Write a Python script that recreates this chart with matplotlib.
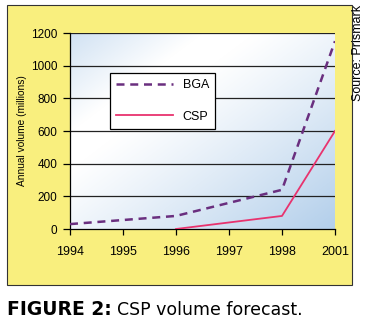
import numpy as np
import matplotlib.pyplot as plt
from matplotlib.patches import Rectangle

plt.rcParams['font.family'] = ['Liberation Sans', 'DejaVu Sans']

years = ['1994', '1995', '1996', '1997', '1998', '2001']
bga_x = [0, 2, 4, 5]
bga = [30, 80, 240, 1150]
csp_x = [2, 4, 5]
csp = [0, 80, 600]
yticks = [0, 200, 400, 600, 800, 1000, 1200]

W, H = 365, 324
fig = plt.figure(figsize=(W / 100, H / 100), dpi=100)

# yellow panel behind the chart
fig.patches.append(Rectangle((7 / W, 1 - 285 / H), 345 / W, 280 / H,
                             transform=fig.transFigure, facecolor='#f9ef7e',
                             edgecolor='#333333', linewidth=0.8, zorder=-5))

ax = fig.add_axes([70 / W, 1 - 229 / H, 265 / W, 196 / H], zorder=2)
ax.set_xlim(0, 5)
ax.set_ylim(0, 1200)
ax.patch.set_alpha(0)

# diagonal blue/white shading in the plot area
u, v = np.meshgrid(np.linspace(0, 1, 200), np.linspace(1, 0, 200))
t = (u + (1 - v)) / 2
shade = np.clip((t - 0.35) / 0.65, 0, 1) ** 1.1 + np.clip((0.25 - t) / 0.25, 0, 1) * 0.6
shade = np.clip(shade, 0, 1)
white = np.array([1.0, 1.0, 1.0])
blue = np.array([0.70, 0.81, 0.92])
img = white[None, None, :] * (1 - shade[..., None]) + blue[None, None, :] * shade[..., None]
ax.imshow(img, extent=[0, 5, 0, 1200], aspect='auto', zorder=0)

for y in yticks[1:]:
    ax.axhline(y, color='#222222', linewidth=0.9, zorder=1)

ax.plot(bga_x, bga, color='#6a2f7f', linewidth=1.8, dashes=(3.2, 2.3), label='BGA', zorder=3)
ax.plot(csp_x, csp, color='#e8336e', linewidth=1.3, label='CSP', zorder=3)

for s in ['top', 'right']:
    ax.spines[s].set_visible(False)
ax.spines['left'].set_linewidth(0.9)
ax.spines['bottom'].set_linewidth(0.9)

ax.set_xticks(range(len(years)))
ax.set_xticklabels(years, fontsize=9)
ax.set_yticks(yticks)
ax.set_yticklabels([str(y) for y in yticks], fontsize=8.5)
ax.tick_params(axis='x', direction='out', length=4, width=0.9, pad=8)
ax.tick_params(axis='y', direction='out', length=5, width=0.9, pad=4)
ax.set_ylabel('Annual volume (millions)', fontsize=7.3, labelpad=3)

leg = ax.legend(loc='upper left', bbox_to_anchor=(0.151, 0.796), borderaxespad=0,
                fontsize=9, frameon=True, fancybox=False, edgecolor='black',
                framealpha=1, handlelength=4.5, labelspacing=1.55,
                borderpad=0.5, handletextpad=0.8)
leg.get_frame().set_linewidth(0.9)
leg.set_zorder(5)

fig.text(358 / W, 1 - 5 / H, 'Source: Prismark', rotation=90, fontsize=9,
         ha='center', va='top')

fig.text(7 / W, 1 - 315 / H, 'FIGURE 2:', fontsize=13.5, fontweight='bold',
         family='DejaVu Sans', ha='left', va='baseline')
fig.text(117 / W, 1 - 315 / H, 'CSP volume forecast.', fontsize=12.5,
         family='DejaVu Sans', ha='left', va='baseline')

fig.savefig('out.png', dpi=100)
